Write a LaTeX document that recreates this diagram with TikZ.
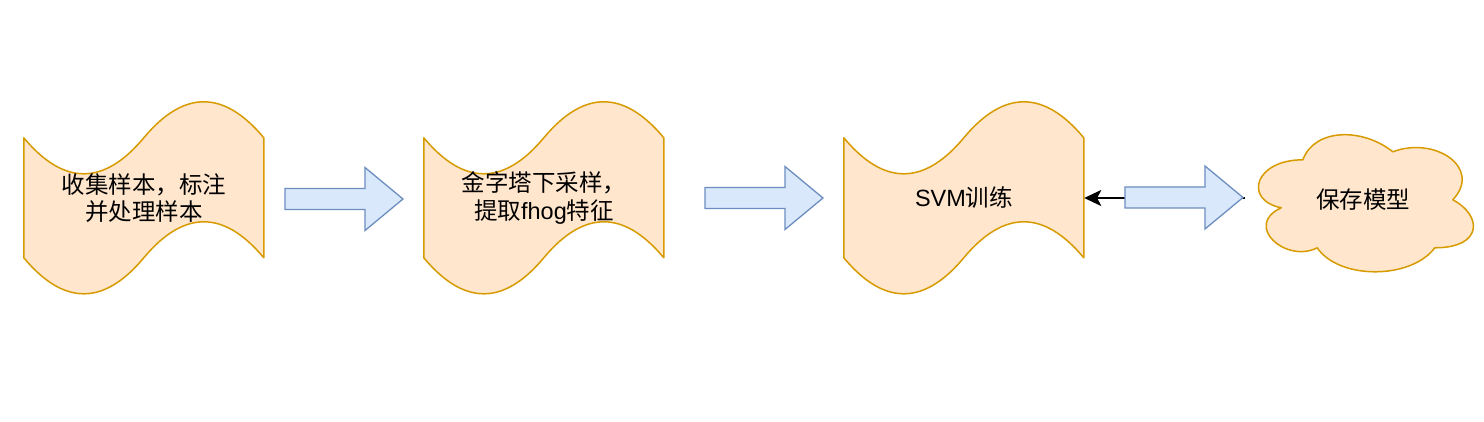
\documentclass[tikz,border=0pt]{standalone}
\usepackage{fontspec}
\setmainfont{Liberation Sans}
\newfontfamily\cjk{Noto Sans CJK SC}
\usetikzlibrary{arrows.meta,backgrounds}
\definecolor{tapefill}{HTML}{FFE6CC}
\definecolor{tapeline}{HTML}{D79B00}
\definecolor{arrfill}{HTML}{DAE8FC}
\definecolor{arrline}{HTML}{6C8EBF}
\tikzset{
  box/.style={minimum width=240pt, minimum height=200pt, inner sep=0pt, align=center,
    font=\fontsize{23.5}{28}\selectfont},
  tapeshape/.style={fill=tapefill, draw=tapeline, line width=1.5pt, line join=round},
  blockarrow/.style={fill=arrfill, draw=arrline, line width=1.3pt, line join=miter},
  conn/.style={draw=black, line width=1.8pt, -{Stealth[length=17pt,width=16pt,inset=4pt]}}
}
\newcommand\tapeat[1]{%
  \draw[tapeshape, shift={(#1.north west)}]
    (0,40) .. controls (40,88) and (80,88) .. (120,40)
           .. controls (160,-8) and (200,-8) .. (240,40)
    -- (240,160) .. controls (200,112) and (160,112) .. (120,160)
           .. controls (80,208) and (40,208) .. (0,160) -- cycle;}
\newcommand\blockarr[2]{%
  \draw[blockarrow, shift={(#1,#2)}]
    (0,-10.5) -- (80,-10.5) -- (80,-31.5) -- (118,0) -- (80,31.5) -- (80,10.5) -- (0,10.5) -- cycle;}
\begin{document}
\begin{tikzpicture}[x=1pt,y=-1pt]
\useasboundingbox (0,0) rectangle (1484,422);
\node[box] (t1) at (144,198) {{\cjk 收集样本，标注}\\[-1pt]{\cjk 并处理样本}};
\node[box] (t2) at (544,198) {{\cjk 金字塔下采样，}\\{\cjk 提取}fhog{\cjk 特征}};
\node[box] (t3) at (964,198) {SVM{\cjk 训练}};
\node[box, minimum height=160pt] (save) at (1363,200) {{\cjk 保存模型}};
\coordinate (c3) at (1245,198);
\begin{scope}[on background layer]
  \tapeat{t1}
  \tapeat{t2}
  \tapeat{t3}
  \draw[tapeshape, shift={(save.north west)}]
    (60,40) .. controls (12,40) and (0,80) .. (38.4,88)
    .. controls (0,105.6) and (43.2,144) .. (74.4,128)
    .. controls (96,160) and (168,160) .. (192,128)
    .. controls (240,128) and (240,96) .. (210,80)
    .. controls (240,48) and (192,16) .. (150,32)
    .. controls (120,8) and (72,8) .. (60,40) -- cycle;
  \draw[conn] (c3) -- (t3.east);
  \blockarr{285}{199}
  \blockarr{705}{198}
  \blockarr{1125}{197.5}
\end{scope}
\end{tikzpicture}
\end{document}
